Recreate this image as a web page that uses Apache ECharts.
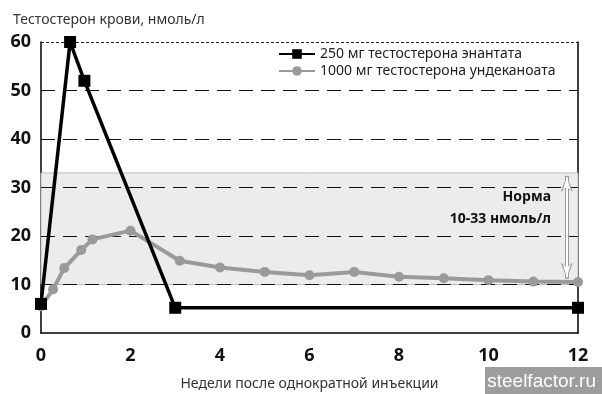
<!DOCTYPE html>
<html><head><meta charset="utf-8">
<script src="https://cdn.jsdelivr.net/npm/echarts@6/dist/echarts.min.js"></script>
<style>html,body{margin:0;padding:0;background:#fff}#c{width:602px;height:394px}</style>
</head><body><div id="c"></div>
<script>
const yTitle = 'Тестостерон крови, нмоль/л';
const xTitle = 'Недели после однократной инъекции';
const seriesNames = ['250 мг тестостерона энантата', '1000 мг тестостерона ундеканоата'];
const enanthateWeeks = [0, 0.65, 0.97, 3, 12];
const enanthateValues = [6, 60, 52, 5.2, 5.2];
const undecanoateWeeks = [0, 0.27, 0.52, 0.9, 1.15, 2, 3.1, 4, 5, 6, 7, 8, 9, 10, 11, 12];
const undecanoateValues = [5.5, 9, 13.4, 17.1, 19.3, 21.1, 14.9, 13.5, 12.6, 11.9, 12.6, 11.6, 11.3, 10.9, 10.6, 10.5];
const xTicks = [0, 2, 4, 6, 8, 10, 12];
const yTicks = [0, 10, 20, 30, 40, 50, 60];
const normRange = [10, 33];
const normLabel = ['Норма', '10-33 нмоль/л'];
const watermark = 'steelfactor.ru';

const FONT = 'Noto Sans';
const chart = echarts.init(document.getElementById('c'), null, {renderer: 'canvas'});
const gridLines = yTicks.filter(v => v > 0 && v < 60).map(v => ({yAxis: v, lineStyle: {type: [14, 8], color: '#111', width: 1}}));
gridLines.push({yAxis: yTicks[yTicks.length - 1], lineStyle: {type: [3, 2], color: '#222', width: 1}});
const arrowX = 11.75;

chart.setOption({
  animation: false,
  backgroundColor: '#fff',
  textStyle: {fontFamily: FONT},
  grid: {left: 41, right: 24, top: 42, bottom: 61, containLabel: false, outerBoundsMode: 'none'},
  title: {text: yTitle, left: 8, top: 8, textStyle: {fontFamily: FONT, fontSize: 14, fontWeight: 'normal', color: '#333'}},
  legend: {
    left: 273, top: 42, orient: 'vertical', itemGap: 3, itemWidth: 36, itemHeight: 12,
    textStyle: {fontFamily: FONT, fontSize: 14, color: '#222'},
    data: seriesNames
  },
  xAxis: {
    type: 'value', min: 0, max: 12, interval: 2,
    axisLine: {show: true, lineStyle: {color: '#000', width: 1.5}},
    axisTick: {show: false}, splitLine: {show: false},
    axisLabel: {fontFamily: FONT, fontSize: 18, fontWeight: 'bold', color: '#111', margin: 14,
      formatter: v => xTicks.includes(v) ? String(v) : ''},
    name: xTitle, nameLocation: 'middle', nameGap: 44,
    nameTextStyle: {fontFamily: FONT, fontSize: 14, color: '#333'}
  },
  yAxis: [{
    type: 'value', min: 0, max: 60, interval: 10,
    axisLine: {show: true, lineStyle: {color: '#000', width: 1.5}},
    axisTick: {show: false}, splitLine: {show: false},
    axisLabel: {fontFamily: FONT, fontSize: 18, fontWeight: 'bold', color: '#111', margin: 10}
  }, {
    type: 'value', min: 0, max: 60, interval: 10, position: 'right',
    axisLine: {show: true, lineStyle: {color: '#000', width: 1.5}},
    axisTick: {show: false}, axisLabel: {show: false}, splitLine: {show: false}
  }],
  graphic: [
    {type: 'text', z: 100, x: 551, y: 190, style: {text: normLabel[0], font: 'bold 14px ' + FONT, fill: '#111', align: 'right', textAlign: 'right'}},
    {type: 'text', z: 100, x: 551, y: 212, style: {text: normLabel[1], font: 'bold 14px ' + FONT, fill: '#111', align: 'right', textAlign: 'right'}},
    {type: 'rect', z: 100, right: 0, bottom: 0, shape: {width: 117, height: 27}, style: {fill: '#9d9d9d'}},
    {type: 'text', z: 101, right: 6, bottom: 3, style: {text: watermark, font: '19px Liberation Sans', fill: '#fff'}}
  ],
  series: [
    {
      name: 'norm', type: 'line', data: [], silent: true,
      markArea: {silent: true, itemStyle: {color: '#ececec', borderColor: '#bdbdbd', borderWidth: 1},
        data: [[{yAxis: normRange[0]}, {yAxis: normRange[1]}]]},
      markLine: {silent: true, symbol: 'none', label: {show: false}, data: gridLines}
    },
    {
      name: 'arrowOuter', type: 'line', data: [], silent: true, z: 3,
      markLine: {silent: true, symbol: ['arrow', 'arrow'], symbolSize: [9, 16], label: {show: false},
        lineStyle: {color: '#9a9a9a', width: 4, type: 'solid'},
        data: [[{coord: [arrowX, normRange[1] - 0.6]}, {coord: [arrowX, normRange[0] + 1.2]}]]}
    },
    {
      name: 'arrowInner', type: 'line', data: [], silent: true, z: 4,
      markLine: {silent: true, symbol: ['arrow', 'arrow'], symbolSize: [6, 13], label: {show: false},
        lineStyle: {color: '#fff', width: 2, type: 'solid'},
        data: [[{coord: [arrowX, normRange[1] - 0.9]}, {coord: [arrowX, normRange[0] + 1.5]}]]}
    },
    {
      name: seriesNames[1], type: 'line', z: 5,
      data: undecanoateWeeks.map((w, i) => [w, undecanoateValues[i]]),
      symbol: 'circle', symbolSize: 10,
      lineStyle: {color: '#9a9a9a', width: 4},
      itemStyle: {color: '#9a9a9a'}
    },
    {
      name: seriesNames[0], type: 'line', z: 6,
      data: enanthateWeeks.map((w, i) => [w, enanthateValues[i]]),
      symbol: 'rect', symbolSize: 12,
      lineStyle: {color: '#000', width: 3.5},
      itemStyle: {color: '#000'}
    }
  ]
});
</script></body></html>
